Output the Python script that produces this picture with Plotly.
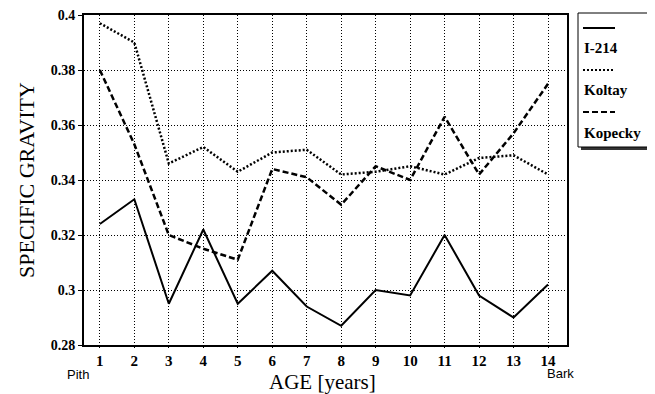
import plotly.graph_objects as go

ages = list(range(1, 15))
i214 = [0.324, 0.333, 0.295, 0.322, 0.295, 0.307, 0.294, 0.287, 0.300, 0.298, 0.320, 0.298, 0.290, 0.302]
koltay = [0.397, 0.390, 0.346, 0.352, 0.343, 0.350, 0.351, 0.342, 0.343, 0.345, 0.342, 0.348, 0.349, 0.342]
kopecky = [0.380, 0.353, 0.320, 0.315, 0.311, 0.344, 0.341, 0.331, 0.345, 0.340, 0.363, 0.342, 0.357, 0.375]
series_names = ["I-214", "Koltay", "Kopecky"]
y_ticks = [0.28, 0.3, 0.32, 0.34, 0.36, 0.38, 0.4]
y_tick_labels = ["0.28", "0.3", "0.32", "0.34", "0.36", "0.38", "0.4"]

# page body has an 8px default margin; work in screen pixels and shift
O = 8
W, H = 655 - O, 394 - O
L, T = 84 - O, 15 - O
R = W - (567 - O)
B = H - (345 - O)
pw, ph = W - L - R, H - T - B

def px(x):
    return (x - O - L) / pw

def py(y):
    return (H - B - (y - O)) / ph

serif = "Liberation Serif, Times New Roman, DejaVu Serif, serif"
sans = "Liberation Sans, Arial, sans-serif"
dashes = ["solid", "2px,2px", "6px,3px"]
widths = [2, 2.5, 2.5]

fig = go.Figure()
for name, vals, d, w in zip(series_names, [i214, koltay, kopecky], dashes, widths):
    fig.add_trace(go.Scatter(x=ages, y=vals, mode="lines", name=name,
                             line=dict(color="black", width=w, dash=d)))

fig.update_layout(
    width=W, height=H,
    margin=dict(l=L, r=R, t=T, b=B),
    paper_bgcolor="white", plot_bgcolor="white",
    showlegend=False,
    font=dict(family=serif, color="black"),
)
fig.update_xaxes(range=[0.54, 14.55], tickvals=ages, ticktext=[str(a) for a in ages],
                 showgrid=True, gridcolor="black", gridwidth=1, griddash="1px,2px",
                 showline=True, linecolor="black", linewidth=2, mirror=True,
                 ticks="outside", ticklen=1, tickcolor="black",
                 tickfont=dict(family=serif, size=15, color="black", weight="bold"),
                 ticklabeloverflow="allow", automargin=False, zeroline=False)
fig.update_yaxes(range=[0.28, 0.4], tickvals=y_ticks, ticktext=y_tick_labels,
                 showgrid=True, gridcolor="black", gridwidth=1, griddash="1px,2px",
                 showline=True, linecolor="black", linewidth=2, mirror=True,
                 ticks="outside", ticklen=4, tickcolor="black",
                 tickfont=dict(family=serif, size=14, color="black", weight="bold"),
                 ticklabeloverflow="allow", automargin=False, zeroline=False)

def label(xr, yr, text, font, xanchor="center", angle=0):
    fig.add_annotation(x=px(xr), y=py(yr), xref="paper", yref="paper", text=text,
                       showarrow=False, xanchor=xanchor, yanchor="middle",
                       textangle=angle, font=font)

# Axis titles
label(322, 382, "AGE [years]", dict(family=serif, size=21))
label(26, 180, "SPECIFIC GRAVITY", dict(family=serif, size=22), angle=-90)

# Pith / Bark labels
label(78, 374, "Pith", dict(family=sans, size=13))
label(560, 373, "Bark", dict(family=sans, size=13))

# Custom legend box with shadow
fig.add_shape(type="rect", xref="paper", yref="paper",
              x0=px(581), x1=px(655), y0=py(150), y1=py(16),
              fillcolor="#333", line=dict(width=0))
fig.add_shape(type="rect", xref="paper", yref="paper",
              x0=px(578), x1=px(652), y0=py(147), y1=py(13),
              fillcolor="white", line=dict(color="black", width=1))
line_ys = [28, 70, 112]
text_ys = [48, 90, 133]
for name, d, ly, ty in zip(series_names, dashes, line_ys, text_ys):
    fig.add_shape(type="line", xref="paper", yref="paper",
                  x0=px(583), x1=px(615), y0=py(ly), y1=py(ly),
                  line=dict(color="black", width=2, dash=d))
    label(582, ty, name, dict(family=serif, size=15, weight="bold"), xanchor="left")

fig.write_html("out.html")
